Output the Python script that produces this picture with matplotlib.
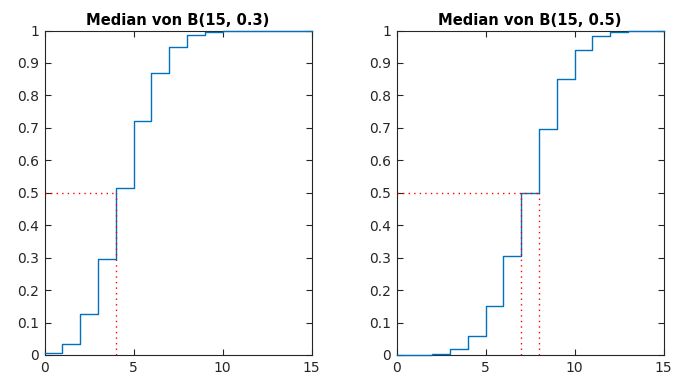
import matplotlib
matplotlib.use("Agg")
import matplotlib.pyplot as plt
from matplotlib.ticker import FuncFormatter

plt.rcParams['font.family'] = ['DejaVu Sans']

k = list(range(16))
cdf_03 = [0.0047, 0.0353, 0.1268, 0.2969, 0.5155, 0.7216, 0.8689, 0.9500,
          0.9848, 0.9963, 0.9993, 0.9999, 1.0, 1.0, 1.0, 1.0]
cdf_05 = [0.00003, 0.0005, 0.0037, 0.0176, 0.0592, 0.1509, 0.3036, 0.5000,
          0.6964, 0.8491, 0.9408, 0.9824, 0.9963, 0.9995, 0.99997, 1.0]
titles = ["Median von B(15, 0.3)", "Median von B(15, 0.5)"]
medians = [[4], [7, 8]]
level = 0.5
xticks = [0, 5, 10, 15]
yticks = [0, 0.1, 0.2, 0.3, 0.4, 0.5, 0.6, 0.7, 0.8, 0.9, 1.0]

fig = plt.figure(figsize=(6.9, 3.9), dpi=100)
positions = [[44.5/690, 1-355/390, 267/690, 324.5/390],
             [396.5/690, 1-355/390, 267/690, 324.5/390]]

def fmt(v, pos):
    s = f"{v:.1f}"
    if s.endswith(".0"):
        s = s[:-2]
    return s

for pos, y, title, meds in zip(positions, [cdf_03, cdf_05], titles, medians):
    ax = fig.add_axes(pos)
    ax.step(k, y, where='post', color='#0072BD', lw=1.0, zorder=3, clip_on=False)
    ax.plot([0, max(meds)], [level, level], color='#FF0000', ls=(0, (1, 3)), lw=1.0, zorder=4)
    for m in meds:
        ax.plot([m, m], [0, level], color='#FF0000', ls=(0, (1, 3)), lw=1.0, zorder=4)
    ax.set_xlim(0, 15)
    ax.set_ylim(0, 1)
    ax.set_xticks(xticks)
    ax.set_yticks(yticks)
    ax.yaxis.set_major_formatter(FuncFormatter(fmt))
    ax.tick_params(direction='in', top=True, right=True, length=4, width=0.8,
                   labelsize=10, colors='#262626', pad=4)
    for sp in ax.spines.values():
        sp.set_color('#262626')
        sp.set_linewidth(0.8)
        sp.set_zorder(2.5)
    ax.set_title(title, fontsize=10.6, fontweight='bold', pad=4)

fig.savefig("out.png", dpi=100)
